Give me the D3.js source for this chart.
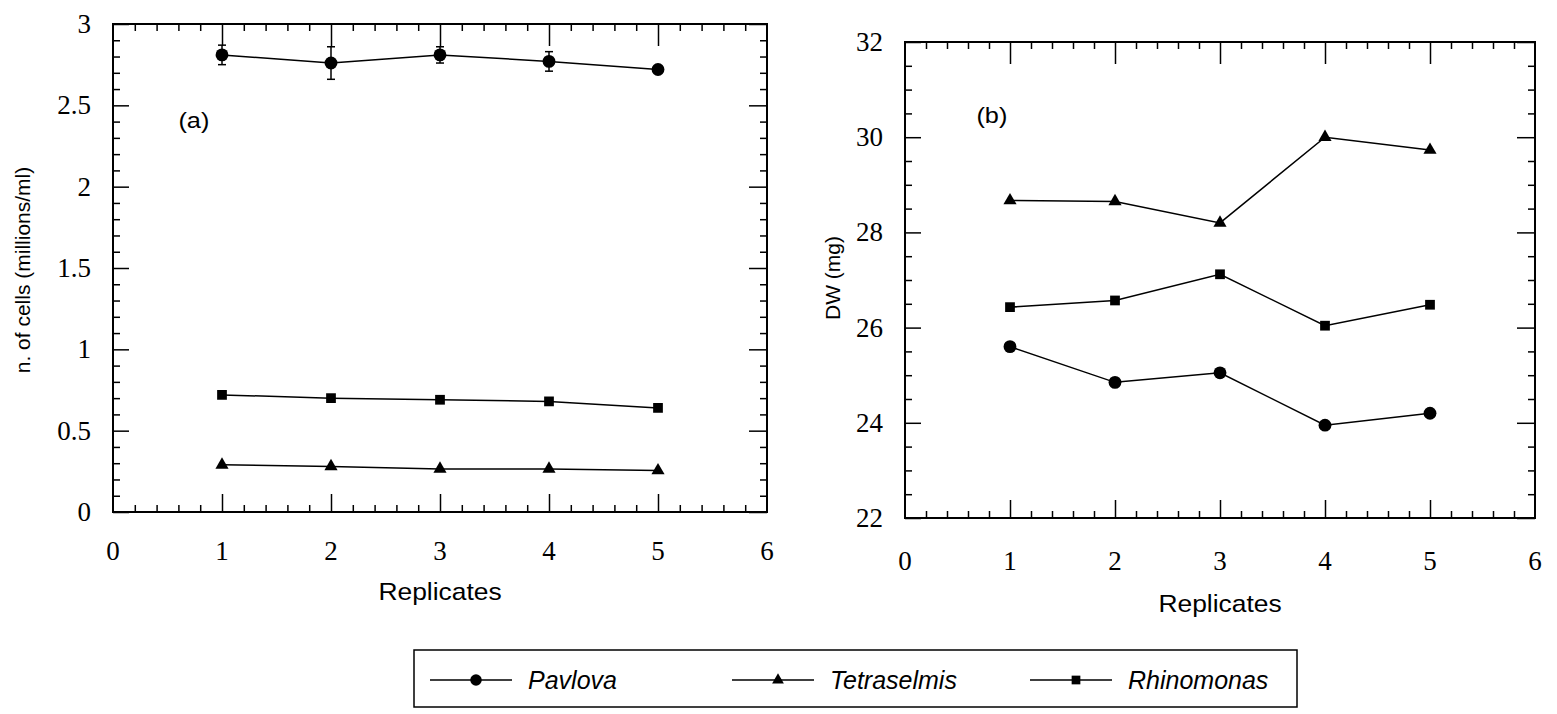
<!DOCTYPE html>
<html>
<head>
<meta charset="utf-8">
<script src="https://cdnjs.cloudflare.com/ajax/libs/d3/7.8.5/d3.min.js"></script>
<style>
  html, body { margin: 0; padding: 0; background: #fff; }
  svg { display: block; }
</style>
</head>
<body>
<svg id="chart" width="1557" height="714"></svg>
<script>
// données
const replicates = [1, 2, 3, 4, 5];
const seriesNames = ['Pavlova', 'Tetraselmis', 'Rhinomonas'];

const cellsPavlova     = [2.81, 2.76, 2.81, 2.77, 2.72];
const cellsPavlovaErr  = [0.06, 0.10, 0.05, 0.06, 0.02];
const cellsTetraselmis = [0.29, 0.28, 0.265, 0.265, 0.255];
const cellsRhinomonas  = [0.72, 0.70, 0.69, 0.68, 0.64];

const dwPavlova     = [25.6, 24.85, 25.05, 23.95, 24.2];
const dwTetraselmis = [28.67, 28.65, 28.2, 30.0, 29.73];
const dwRhinomonas  = [26.43, 26.57, 27.12, 26.04, 26.48];

const xTicks = [0, 1, 2, 3, 4, 5, 6];
const cellsTicks = [0, 0.5, 1, 1.5, 2, 2.5, 3];
const cellsTickLabels = ['0', '0.5', '1', '1.5', '2', '2.5', '3'];
const dwTicks = [22, 24, 26, 28, 30, 32];

const svg = d3.select('#chart');
const SERIF = "'Liberation Serif', 'Times New Roman', serif";
const SANS = "'Liberation Sans', Arial, sans-serif";

function symbolFor(name) {
  if (name === 'Pavlova') return d3.symbolCircle;
  if (name === 'Tetraselmis') return d3.symbolTriangle;
  return d3.symbolSquare;
}
function symbolSize(name) {
  if (name === 'Pavlova') return 130;
  if (name === 'Tetraselmis') return 75;
  return 95;
}

function drawPanel(p) {
  const x = d3.scaleLinear().domain([0, 6]).range([p.left, p.right]);
  const y = d3.scaleLinear().domain(p.yDomain).range([p.bottom, p.top]);
  const g = svg.append('g');

  const minorX = d3.range(0, 6.001, 0.2).filter(v => Math.abs(v - Math.round(v)) > 1e-6);
  const minorY = d3.range(p.yDomain[0], p.yDomain[1] + 1e-6, p.yMinor)
    .filter(v => !p.yTicks.some(t => Math.abs(t - v) < 1e-6));

  // ticks vers l'intérieur
  const axes = [
    [d3.axisBottom(x).tickValues(minorX).tickSize(-7), p.bottom, 'x'],
    [d3.axisBottom(x).tickValues(xTicks.slice(1, -1)).tickSize(-18), p.bottom, 'x'],
    [d3.axisTop(x).tickValues(minorX).tickSize(-7), p.top, 'x'],
    [d3.axisTop(x).tickValues(xTicks.slice(1, -1)).tickSize(-22), p.top, 'x'],
    [d3.axisLeft(y).tickValues(minorY).tickSize(-7), p.left, 'y'],
    [d3.axisLeft(y).tickValues(p.yTicks).tickSize(-16), p.left, 'y'],
    [d3.axisRight(y).tickValues(minorY).tickSize(-7), p.right, 'y'],
    [d3.axisRight(y).tickValues(p.yTicks).tickSize(-18), p.right, 'y']
  ];
  axes.forEach(([ax, pos, dir]) => {
    const a = g.append('g')
      .attr('transform', dir === 'x' ? `translate(0,${pos})` : `translate(${pos},0)`)
      .call(ax.tickFormat(''));
    a.select('.domain').remove();
    a.selectAll('line').attr('stroke', '#000').attr('stroke-width', 1.5);
  });

  g.append('rect')
    .attr('x', p.left).attr('y', p.top)
    .attr('width', p.right - p.left).attr('height', p.bottom - p.top)
    .attr('fill', 'none').attr('stroke', '#000').attr('stroke-width', 2);

  // libellés des axes
  g.selectAll('.xlab').data(xTicks).join('text')
    .attr('x', d => x(d)).attr('y', p.bottom + p.xLabelDy)
    .attr('text-anchor', 'middle')
    .style('font-family', SERIF).style('font-size', '27px')
    .text(d => d);
  g.selectAll('.ylab').data(p.yTicks).join('text')
    .attr('x', p.left - 22).attr('y', d => y(d) + 9)
    .attr('text-anchor', 'end')
    .style('font-family', SERIF).style('font-size', '27px')
    .text((d, i) => p.yTickLabels[i]);

  g.append('text')
    .attr('transform', `translate(${x(3)},${p.bottom + p.xTitleDy}) scale(1.1,1)`)
    .attr('text-anchor', 'middle')
    .style('font-family', SANS).style('font-size', '24px')
    .text('Replicates');
  g.append('text')
    .attr('transform', `translate(${p.yTitleX},${p.yTitleY}) rotate(-90)`)
    .attr('text-anchor', 'middle')
    .style('font-family', SANS).style('font-size', '21px')
    .text(p.yTitle);
  g.append('text')
    .attr('transform', `translate(${x(p.tag[0])},${y(p.tag[1])}) scale(1.15,1)`)
    .style('font-family', SANS).style('font-size', '22px')
    .text(p.tag[2]);

  const line = d3.line().x((d, i) => x(replicates[i])).y(d => y(d));

  p.series.forEach(([name, vals, err]) => {
    if (err) {
      const eg = g.append('g');
      vals.forEach((v, i) => {
        const cx = x(replicates[i]);
        eg.append('line').attr('x1', cx).attr('x2', cx)
          .attr('y1', y(v - err[i])).attr('y2', y(v + err[i]))
          .attr('stroke', '#000').attr('stroke-width', 1.5);
        [v - err[i], v + err[i]].forEach(e => {
          eg.append('line').attr('x1', cx - 4).attr('x2', cx + 4)
            .attr('y1', y(e)).attr('y2', y(e))
            .attr('stroke', '#000').attr('stroke-width', 1.5);
        });
      });
    }
    g.append('path').datum(vals)
      .attr('d', line)
      .attr('fill', 'none').attr('stroke', '#000').attr('stroke-width', 1.5);
    g.selectAll(null).data(vals).join('path')
      .attr('transform', (d, i) => `translate(${x(replicates[i])},${y(d)})`)
      .attr('d', d3.symbol().type(symbolFor(name)).size(symbolSize(name)))
      .attr('fill', '#000');
  });
}

drawPanel({
  left: 113, right: 767, top: 24, bottom: 512,
  yDomain: [0, 3], yTicks: cellsTicks, yTickLabels: cellsTickLabels, yMinor: 0.1,
  xLabelDy: 48, xTitleDy: 88,
  yTitle: 'n. of cells (millions/ml)', yTitleX: 30, yTitleY: 270,
  tag: [0.6, 2.36, '(a)'],
  series: [
    ['Pavlova', cellsPavlova, cellsPavlovaErr],
    ['Tetraselmis', cellsTetraselmis],
    ['Rhinomonas', cellsRhinomonas]
  ]
});

drawPanel({
  left: 905, right: 1535, top: 42, bottom: 518,
  yDomain: [22, 32], yTicks: dwTicks, yTickLabels: dwTicks.map(String), yMinor: 0.5,
  xLabelDy: 52, xTitleDy: 94,
  yTitle: 'DW (mg)', yTitleX: 840, yTitleY: 278,
  tag: [0.68, 30.3, '(b)'],
  series: [
    ['Pavlova', dwPavlova],
    ['Tetraselmis', dwTetraselmis],
    ['Rhinomonas', dwRhinomonas]
  ]
});

// légende
const legend = svg.append('g');
legend.append('rect')
  .attr('x', 414).attr('y', 650).attr('width', 883).attr('height', 57)
  .attr('fill', 'none').attr('stroke', '#000').attr('stroke-width', 1.5);
const legendX = [430, 732, 1030];
seriesNames.forEach((name, i) => {
  const lx = legendX[i];
  legend.append('line')
    .attr('x1', lx).attr('x2', lx + 82).attr('y1', 680).attr('y2', 680)
    .attr('stroke', '#000').attr('stroke-width', 1.5);
  legend.append('path')
    .attr('transform', `translate(${lx + 46},680)`)
    .attr('d', d3.symbol().type(symbolFor(name)).size(symbolSize(name) * 0.8))
    .attr('fill', '#000');
  legend.append('text')
    .attr('x', lx + 98).attr('y', 689)
    .style('font-family', SANS).style('font-size', '25px').style('font-style', 'italic')
    .text(name);
});
</script>
</body>
</html>
